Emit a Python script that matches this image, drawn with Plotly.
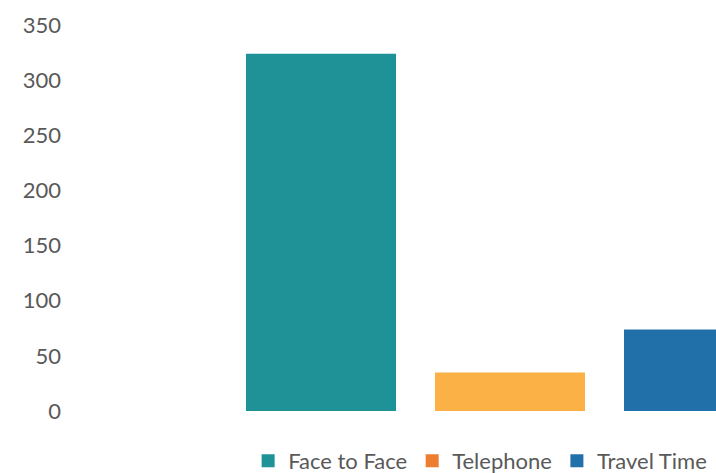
import plotly.graph_objects as go

category = [""]
series_names = ["Face to Face", "Telephone", "Travel Time"]
values = [324, 35, 74]
bar_colors = ["#1E9297", "#FBB145", "#2170AA"]
legend_colors = ["#1E9297", "#ED7D31", "#2170AA"]
y_ticks = [0, 50, 100, 150, 200, 250, 300, 350]

fig = go.Figure()
for name, v, c in zip(series_names, values, bar_colors):
    fig.add_trace(go.Bar(x=category, y=[v], name=name, marker=dict(color=c, line=dict(width=0)),
                         showlegend=False))
for name, c in zip(series_names, legend_colors):
    fig.add_trace(go.Scatter(x=[None], y=[None], mode="markers", name=name,
                             marker=dict(symbol="square", size=13, color=c)))

L = 72
px_per_unit = 708.75
slot = 0.8 / 3
left = -slot - (321 - L) / px_per_unit
right = -slot + (716 - 321) / px_per_unit

fig.update_layout(
    width=716, height=473,
    margin=dict(l=L, r=0, t=25, b=62, autoexpand=False),
    paper_bgcolor="white", plot_bgcolor="white",
    barmode="group", bargap=0.2, bargroupgap=39 / 189,
    font=dict(family="Lato", size=22, color="#595959"),
    xaxis=dict(range=[left, right], showticklabels=False, showgrid=False, zeroline=False,
               showline=False, fixedrange=True),
    yaxis=dict(range=[0, 350], tickvals=y_ticks, showgrid=False, zeroline=False, showline=False,
               ticklabelstandoff=10),
    legend=dict(orientation="h", x=0.2735, xanchor="left", y=-0.075, yanchor="top",
                font=dict(size=22, color="#595959"), itemwidth=30),
    showlegend=True,
)

fig.write_html("out.html")
